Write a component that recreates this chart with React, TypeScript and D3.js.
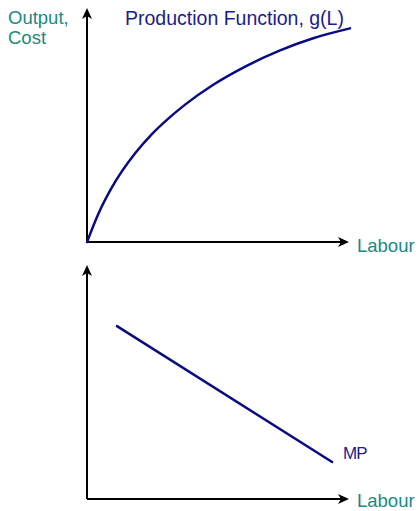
import React from "react";
import * as d3 from "d3";

// Production function g(L) (labour 0..100, output 0..100)
const prodLabour = [0, 4.3, 9.4, 18.3, 24.6, 30.9, 37.3, 48.0, 60.7, 73.4, 86.0, 100];
const prodOutput = [0, 12.0, 23.2, 37.9, 46.0, 52.7, 58.7, 67.2, 75.3, 81.9, 87.1, 91.3];
// Marginal product line
const mpLabour = [11.4, 93.2];
const mpValue = [73.9, 15.8];

const axisLabelX = "Labour";
const axisLabelY = ["Output,", "Cost"];
const prodLabel = "Production Function, g(L)";
const mpLabel = "MP";

const TEAL = "#178a84";
const NAVY = "#0a0a84";
const NAVY_TEXT = "#1c1c8e";
const FONT = "'Liberation Sans', Arial, sans-serif";

function Arrow({ x, y, dir }: { x: number; y: number; dir: "up" | "right" }) {
  // stealth-style arrowhead with tip at (x,y)
  const p =
    dir === "right"
      ? `M${x},${y} L${x - 11},${y - 5} L${x - 8},${y} L${x - 11},${y + 5} Z`
      : `M${x},${y} L${x - 5},${y + 11} L${x},${y + 8} L${x + 5},${y + 11} Z`;
  return <path d={p} fill="#000" />;
}

export default function App() {
  const W = 420;
  const H = 511;
  const x = d3.scaleLinear().domain([0, 100]).range([87, 350]);
  const yTop = d3.scaleLinear().domain([0, 100]).range([242, 8]);
  const yBot = d3.scaleLinear().domain([0, 100]).range([499, 265]);

  const prodPts = prodLabour.map((l, i) => [l, prodOutput[i]] as [number, number]);
  const prodLine = d3
    .line<[number, number]>()
    .x((d) => x(d[0]))
    .y((d) => yTop(d[1]))
    .curve(d3.curveMonotoneX)(prodPts);

  const mpPts = mpLabour.map((l, i) => [l, mpValue[i]] as [number, number]);
  const mpLine = d3
    .line<[number, number]>()
    .x((d) => x(d[0]))
    .y((d) => yBot(d[1]))(mpPts);

  const x0 = x(0);
  const xEnd = x(100) - 1;

  return (
    <svg
      width={W}
      height={H}
      style={{ position: "absolute", left: 0, top: 0, background: "#fff" }}
      fontFamily={FONT}
    >
      {/* Top panel axes */}
      <line x1={x0} y1={yTop(0)} x2={x0} y2={yTop(100) + 6} stroke="#000" strokeWidth={2} />
      <Arrow x={x0} y={yTop(100)} dir="up" />
      <line x1={x0} y1={yTop(0)} x2={xEnd - 6} y2={yTop(0)} stroke="#000" strokeWidth={2} />
      <Arrow x={xEnd} y={yTop(0)} dir="right" />

      <path d={prodLine || ""} fill="none" stroke={NAVY} strokeWidth={2.5} strokeLinecap="round" />

      <text x={8} y={24} fill={TEAL} fontSize={18.5}>{axisLabelY[0]}</text>
      <text x={8} y={44} fill={TEAL} fontSize={18.5}>{axisLabelY[1]}</text>
      <text x={125} y={25} fill={NAVY_TEXT} fontSize={19.5}>{prodLabel}</text>
      <text x={357} y={252} fill={TEAL} fontSize={18.5}>{axisLabelX}</text>

      {/* Bottom panel axes */}
      <line x1={x0} y1={yBot(0)} x2={x0} y2={yBot(100) + 6} stroke="#000" strokeWidth={2} />
      <Arrow x={x0} y={yBot(100)} dir="up" />
      <line x1={x0} y1={yBot(0)} x2={xEnd - 6} y2={yBot(0)} stroke="#000" strokeWidth={2} />
      <Arrow x={xEnd} y={yBot(0)} dir="right" />

      <path d={mpLine || ""} fill="none" stroke={NAVY} strokeWidth={2.5} strokeLinecap="round" />

      <text x={343} y={459} fill={NAVY_TEXT} fontSize={17} letterSpacing={-1}>{mpLabel}</text>
      <text x={357} y={507} fill={TEAL} fontSize={18.5}>{axisLabelX}</text>
    </svg>
  );
}
